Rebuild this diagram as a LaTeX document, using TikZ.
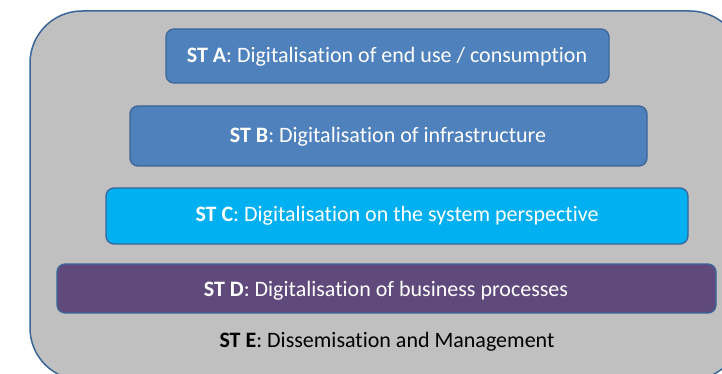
\documentclass[tikz,border=0pt]{standalone}
\usepackage{fontspec}
\setmainfont[Ligatures=NoCommon]{Carlito}
\definecolor{outerfill}{HTML}{C0C0C0}
\definecolor{bordblue}{HTML}{3A6699}
\definecolor{stblue}{HTML}{4F81BD}
\definecolor{stcyan}{HTML}{00B0F0}
\definecolor{stpurple}{HTML}{604A7B}
\begin{document}
\begin{tikzpicture}[x=1pt,y=-1pt,
  layer/.style={draw=bordblue, line width=1.3pt, rounded corners=8pt},
  lbl/.style={font=\fontsize{22}{26}\selectfont, text=white},
]
\useasboundingbox (0,0) rectangle (722,374);
\clip (0,0) rectangle (722,374);
\draw[draw=bordblue, fill=outerfill, line width=1.5pt, rounded corners=52pt] (30,11) rectangle (742,380);
\draw[layer, fill=stblue] (166,29) rectangle (609,83);
\draw[layer, fill=stblue] (130,106) rectangle (647,166);
\draw[layer, fill=stcyan] (106,188) rectangle (688,244);
\draw[layer, fill=stpurple] (57,264) rectangle (716,313);
\node[lbl] (a) at (387,57) {\textbf{ST A}: Digitalisation of end use / consumption};
\node[lbl] (b) at (388,137) {\textbf{ST B}: Digitalisation of infrastructure};
\node[lbl] (c) at (397,216) {\textbf{ST C}: Digitalisation on the system perspective};
\node[lbl] (d) at (386,291) {\textbf{ST D}: Digitalisation of business processes};
\node[lbl, text=black] (e) at (387,342) {\textbf{ST E}: Dissemisation and Management};
\end{tikzpicture}
\end{document}
